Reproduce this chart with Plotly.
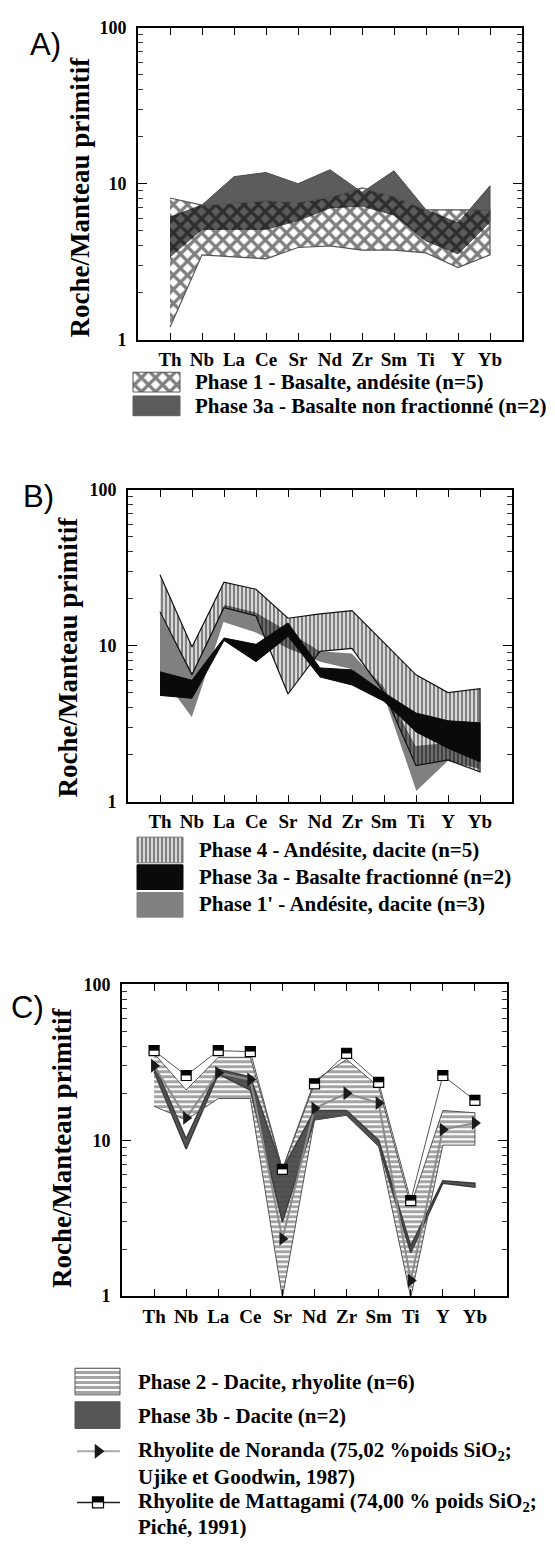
import plotly.graph_objects as go

W, H = 555, 1548

# ---------------- data ----------------
elements = ["Th", "Nb", "La", "Ce", "Sr", "Nd", "Zr", "Sm", "Ti", "Y", "Yb"]

# Panel A
a_phase1_upper = [8.1, 7.3, 7.5, 7.8, 7.6, 8.2, 9.4, 8.3, 6.8, 6.8, 6.8]
a_phase1_lower = [1.2, 3.5, 3.4, 3.3, 3.9, 4.0, 3.75, 3.75, 3.6, 2.9, 3.5]
a_phase3a_upper = [6.1, 7.3, 11.1, 11.8, 10.0, 12.3, 8.8, 12.1, 6.8, 5.6, 9.7]
a_phase3a_lower = [3.4, 5.1, 5.1, 5.1, 5.8, 7.0, 7.2, 6.3, 4.3, 3.55, 5.7]

# Panel B
b_phase4_upper = [28.5, 9.8, 25.5, 23.0, 15.0, 16.0, 16.8, 10.5, 6.5, 5.0, 5.3]
b_phase4_lower = [16.5, 6.5, 17.5, 15.5, 4.9, 9.2, 9.6, 5.0, 1.7, 1.85, 1.55]
b_phase3a_upper = [6.8, 6.0, 11.2, 10.2, 14.0, 7.2, 7.0, 5.0, 3.7, 3.3, 3.2]
b_phase3a_lower = [4.8, 4.6, 10.8, 7.9, 11.5, 6.3, 5.6, 4.4, 2.8, 2.2, 1.8]
b_phase1p_upper = [16.5, 6.8, 18.5, 16.5, 12.5, 9.3, 9.0, 5.5, 2.3, 2.4, 2.0]
b_phase1p_lower = [6.5, 3.4, 14.0, 12.0, 9.5, 7.8, 7.0, 4.6, 1.15, 1.8, 1.6]

# Panel C
c_phase2_upper = [36, 21, 34, 34, 6.5, 24, 33, 22, 3.8, 15.5, 15.0]
c_phase2_lower = [16.5, 13.5, 18.5, 18.5, 0.98, 13.5, 14.5, 9.3, 0.98, 9.3, 9.3]
c_phase3b_upper = [31, 10.2, 28.5, 25.5, 6.5, 15.5, 15.5, 10.0, 2.1, 5.5, 5.3]
c_phase3b_lower = [27.5, 8.8, 26.5, 21, 3.0, 13.5, 14.5, 9.2, 1.9, 5.3, 5.0]
c_noranda = [30, 13.9, 27, 24.5, 2.33, 16, 20, 17.3, 1.26, 11.7, 12.9]
c_mattagami = [37.5, 26, 37.5, 37, 6.5, 23, 36, 23.5, 4.1, 26, 18]

ytick_vals = [1, 10, 100]
ytick_text = ["1", "10", "100"]
minor_vals = [2, 3, 4, 5, 6, 7, 8, 9, 20, 30, 40, 50, 60, 70, 80, 90]

SERIF = "Liberation Serif, Times New Roman, serif"
SANS = "Liberation Sans, Arial, sans-serif"

# ---------------- layout helpers ----------------
def px(x):
    return x / W

def py(y):
    return 1 - y / H

# frame boxes in pixels (left, right, top, bottom)
boxes = {
    "": (138, 522, 18, 334),
    "2": (128, 512, 486, 802),
    "3": (122, 507, 987, 1303),
}

CROSS = dict(shape="x", fgcolor="#000", size=10, solidity=0.55)
VLINES = dict(shape="|", fgcolor="#000", size=4, solidity=0.65)
HLINES = dict(shape="-", fgcolor="#4a4a4a", size=5, solidity=0.6)

fig = go.Figure()
xs_idx = list(range(len(elements)))
shapes = []


def band(upper, lower, ax, fillcolor="rgba(0,0,0,0)", pattern=None, lc="black", lw=1.0):
    xs = xs_idx + xs_idx[::-1]
    ys = list(upper) + list(lower)[::-1]
    kw = dict(x=xs, y=ys, fill="toself", fillcolor=fillcolor, mode="lines",
              line=dict(color=lc, width=lw), xaxis="x" + ax, yaxis="y" + ax,
              showlegend=False, hoverinfo="skip")
    if pattern:
        kw["fillpattern"] = dict(pattern, bgcolor="rgba(0,0,0,0)")
    fig.add_trace(go.Scatter(**kw))


# Panel A
band(a_phase3a_upper, a_phase3a_lower, "", fillcolor="#5c5c5c", lc="#4a4a4a", lw=1)
band(a_phase1_upper, a_phase1_lower, "", pattern=CROSS, lc="#555", lw=1.2)

# Panel B
band(b_phase1p_upper, b_phase1p_lower, "2", fillcolor="#808080", lc="white", lw=1.5)
band(b_phase4_upper, b_phase4_lower, "2", pattern=VLINES, lc="#111", lw=1.2)
band(b_phase3a_upper, b_phase3a_lower, "2", fillcolor="#0a0a0a", lc="#0a0a0a", lw=1)

# Panel C
band(c_phase3b_upper, c_phase3b_lower, "3", fillcolor="#555555", lc="#3a3a3a", lw=1.5)
band(c_phase2_upper, c_phase2_lower, "3", pattern=HLINES, lc="#555", lw=1)
fig.add_trace(go.Scatter(x=xs_idx, y=c_noranda, mode="lines+markers", xaxis="x3", yaxis="y3",
                         line=dict(color="#8c8c8c", width=2),
                         marker=dict(symbol="triangle-right", size=12, color="#1a1a1a"),
                         showlegend=False, hoverinfo="skip"))
fig.add_trace(go.Scatter(x=xs_idx, y=c_mattagami, mode="lines+markers", xaxis="x3", yaxis="y3",
                         line=dict(color="#555", width=1),
                         marker=dict(symbol="square", size=10, color="white",
                                     line=dict(color="black", width=1.2)),
                         showlegend=False, hoverinfo="skip"))
# black upper half of each Mattagami square
for i, v in zip(xs_idx, c_mattagami):
    shapes.append(dict(type="rect", xref="x3", yref="y3", xsizemode="pixel", ysizemode="pixel",
                       xanchor=i, yanchor=v, x0=-5, x1=5, y0=0, y1=5,
                       fillcolor="black", line=dict(width=0), layer="above"))

# ---------------- legends (drawn in a pixel-space overlay axis) ----------------
def rect(x0, y0, x1, y1, fillcolor="white", pattern=None, lc="#444"):
    kw = dict(x=[x0, x1, x1, x0, x0], y=[y0, y0, y1, y1, y0], fill="toself",
              fillcolor=fillcolor, mode="lines", line=dict(color=lc, width=1),
              xaxis="x4", yaxis="y4", showlegend=False, hoverinfo="skip")
    if pattern:
        kw["fillpattern"] = dict(pattern, bgcolor="white")
    fig.add_trace(go.Scatter(**kw))

rect(133, 367, 180, 387, pattern=CROSS, lc="#555")
rect(133, 391, 180, 411, fillcolor="#5c5c5c", lc="#5c5c5c")

rect(137, 838, 183, 864, pattern=VLINES, lc="#777")
rect(137, 866, 183, 891, fillcolor="#0a0a0a", lc="#0a0a0a")
rect(137, 894, 183, 919, fillcolor="#808080", lc="#808080")

rect(75, 1376, 120, 1403, pattern=HLINES, lc="#555")
rect(75, 1410, 120, 1437, fillcolor="#555555", lc="#555555")

NOR_Y, MAT_Y = 1460, 1512
fig.add_trace(go.Scatter(x=[77, 120], y=[NOR_Y, NOR_Y], mode="lines", xaxis="x4", yaxis="y4",
                         line=dict(color="#aaa", width=2), showlegend=False, hoverinfo="skip"))
fig.add_trace(go.Scatter(x=[98], y=[NOR_Y], mode="markers", xaxis="x4", yaxis="y4",
                         marker=dict(symbol="triangle-right", size=13, color="#1a1a1a"),
                         showlegend=False, hoverinfo="skip"))
fig.add_trace(go.Scatter(x=[77, 120], y=[MAT_Y, MAT_Y], mode="lines", xaxis="x4", yaxis="y4",
                         line=dict(color="#222", width=1.5), showlegend=False, hoverinfo="skip"))
fig.add_trace(go.Scatter(x=[98], y=[MAT_Y], mode="markers", xaxis="x4", yaxis="y4",
                         marker=dict(symbol="square", size=11, color="white",
                                     line=dict(color="black", width=1.2)),
                         showlegend=False, hoverinfo="skip"))
shapes.append(dict(type="rect", xref="x4", yref="y4", xsizemode="pixel", ysizemode="pixel",
                   xanchor=98, yanchor=MAT_Y, x0=-5.5, x1=5.5, y0=0, y1=5.5,
                   fillcolor="black", line=dict(width=0), layer="above"))

# ---------------- axes ----------------
layout_axes = {}
for k, (l, r, t, b) in boxes.items():
    layout_axes["xaxis" + k] = dict(
        domain=[px(l), px(r)], anchor="y" + k, range=[-1, 11],
        tickmode="array", tickvals=xs_idx, ticktext=elements,
        ticks="inside", ticklen=7, tickwidth=1.2, tickcolor="black",
        showline=True, linecolor="black", linewidth=1.6, mirror="allticks",
        showgrid=False, zeroline=False, ticklabelstandoff=2,
        tickfont=dict(family=SERIF, size=19, color="black", weight="bold"),
        fixedrange=True,
    )
    layout_axes["yaxis" + k] = dict(
        domain=[py(b), py(t)], anchor="x" + k, type="log", range=[0, 2],
        tickmode="array", tickvals=ytick_vals, ticktext=ytick_text,
        ticks="inside", ticklen=9, tickwidth=1.2, tickcolor="black",
        minor=dict(tickmode="array", tickvals=minor_vals, ticks="inside", ticklen=5,
                   tickwidth=1, tickcolor="#333", showgrid=False),
        showline=True, linecolor="black", linewidth=1.6, mirror="allticks",
        showgrid=False, zeroline=False, ticklabelstandoff=6,
        tickfont=dict(family=SERIF, size=18, color="black", weight="bold"),
        fixedrange=True,
    )

layout_axes["xaxis4"] = dict(domain=[0, 1], anchor="y4", range=[0, W], visible=False, fixedrange=True)
layout_axes["yaxis4"] = dict(domain=[0, 1], anchor="x4", range=[H, 0], visible=False, fixedrange=True)

# ---------------- annotations ----------------
ann = []

def text(x, y, s, size, family=SERIF, bold=True, xanchor="left", angle=0):
    ann.append(dict(x=px(x), y=py(y), xref="paper", yref="paper", text=s, showarrow=False,
                    xanchor=xanchor, yanchor="middle", textangle=angle,
                    font=dict(family=family, size=size, color="black",
                              weight="bold" if bold else "normal")))

text(45, 35, "A)", 31, family=SANS, bold=False, xanchor="center")
text(38, 493, "B)", 31, family=SANS, bold=False, xanchor="center")
text(27, 1011, "C)", 31, family=SANS, bold=False, xanchor="center")

text(80, 190, "Roche/Manteau primitif", 27, xanchor="center", angle=-90)
text(68, 656, "Roche/Manteau primitif", 27, xanchor="center", angle=-90)
text(62, 1153, "Roche/Manteau primitif", 27, xanchor="center", angle=-90)

text(193, 377, "Phase 1 - Basalte, andésite (n=5)", 21)
text(193, 401, "Phase 3a - Basalte non fractionné (n=2)", 21)

text(197, 851, "Phase 4 - Andésite, dacite (n=5)", 21)
text(197, 878, "Phase 3a - Basalte fractionné (n=2)", 21)
text(197, 906, "Phase 1' - Andésite, dacite (n=3)", 21)

text(136, 1390, "Phase 2 - Dacite, rhyolite (n=6)", 21)
text(136, 1424, "Phase 3b - Dacite (n=2)", 21)
text(136, NOR_Y, "Rhyolite de Noranda (75,02 %poids SiO<sub>2</sub>;", 21)
text(136, 1486, "Ujike et Goodwin, 1987)", 21)
text(136, MAT_Y, "Rhyolite de Mattagami (74,00 % poids SiO<sub>2</sub>;", 21)
text(136, 1537, "Piché, 1991)", 21)

fig.update_layout(
    width=W, height=H, margin=dict(l=0, r=0, t=0, b=0),
    paper_bgcolor="white", plot_bgcolor="rgba(0,0,0,0)",
    showlegend=False, annotations=ann, shapes=shapes, **layout_axes,
)

fig.write_html("out.html")
